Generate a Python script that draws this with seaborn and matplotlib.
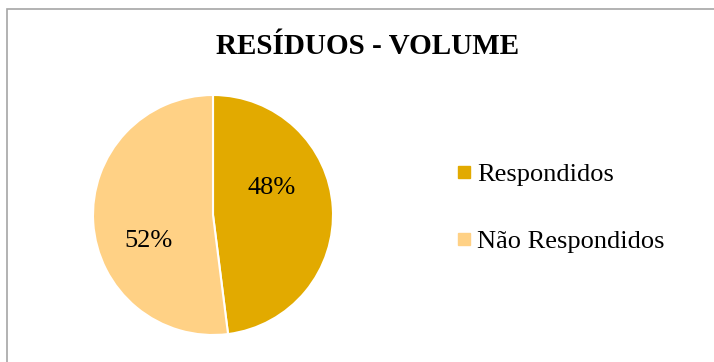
import matplotlib
matplotlib.use("Agg")
import matplotlib.pyplot as plt
import seaborn as sns
from matplotlib.patches import Rectangle
from matplotlib.lines import Line2D

title = "RESÍDUOS - VOLUME"
categories = ["Respondidos", "Não Respondidos"]
values = [48, 52]
colors = ["#E2AA00", "#FFD185"]

sns.set_theme(style="white")
plt.rcParams["font.family"] = ["Liberation Serif", "DejaVu Serif"]
plt.rcParams["text.color"] = "black"

fig = plt.figure(figsize=(7.14, 3.62), dpi=100)
fig.patch.set_facecolor("white")

# chart border
fig.add_artist(Rectangle((7 / 714, -0.05), 1.0, 1 - 9 / 362 + 0.05,
                         transform=fig.transFigure, fill=False,
                         edgecolor="#A6A6A6", linewidth=1.2))

ax = fig.add_axes([93 / 714, 27 / 362, 240 / 714, 240 / 362])
wedges, texts, autotexts = ax.pie(
    values, colors=colors, startangle=90, counterclock=False,
    autopct="%1.0f%%", pctdistance=0.56,
    wedgeprops=dict(edgecolor="white", linewidth=1.5),
    textprops=dict(fontsize=19, color="black"))
ax.set_xlim(-1, 1)
ax.set_ylim(-1, 1)
ax.set_aspect("equal")

# label positions as placed in the original
autotexts[0].set_position((0.49, 0.225))
autotexts[1].set_position((-0.54, -0.217))

fig.text(368 / 714, 1 - 47 / 362, title, ha="center", va="center",
         fontsize=21, fontweight="bold", color="black")

handles = [Line2D([], [], marker="s", linestyle="", markersize=8,
                  markerfacecolor=c, markeredgecolor=c) for c in colors]
leg = fig.legend(handles, categories, loc="center left",
                 bbox_to_anchor=(443 / 714, 1 - 208 / 362), frameon=False,
                 fontsize=19, labelspacing=1.65, handlelength=0.6,
                 handletextpad=0.2, borderpad=0)
for t in leg.get_texts():
    t.set_color("black")

plt.savefig("out.png", dpi=100)
